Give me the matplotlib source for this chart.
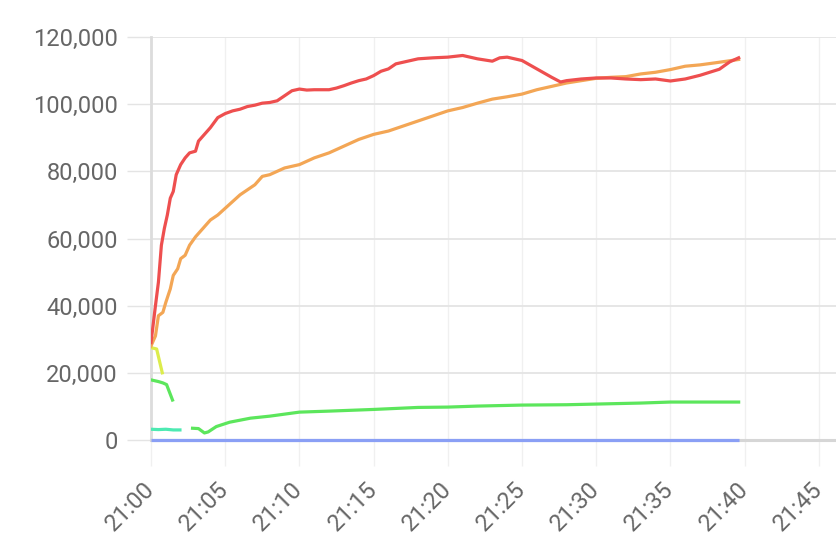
import numpy as np
import matplotlib.pyplot as plt

# minutes after 21:00
red_t = [0, 0.3, 0.5, 0.7, 0.9, 1.1, 1.3, 1.5, 1.7, 2.0, 2.3, 2.6, 3.0, 3.2, 3.6, 4.0, 4.5, 5.0,
         5.5, 6.0, 6.5, 7.0, 7.5, 8.0, 8.5, 9.0, 9.5, 10, 10.5, 11, 12, 12.5, 13, 13.5, 14, 14.5,
         15, 15.5, 16, 16.5, 17, 18, 19, 20, 21, 22, 23, 23.5, 24, 25, 26, 27, 27.6, 28, 29, 30,
         31, 32, 33, 34, 35, 36, 37, 38.3, 39, 39.6]
red_v = [29000, 40000, 47000, 58000, 63000, 67000, 72000, 74000, 79000, 82000, 84000, 85500,
         86000, 89000, 91000, 93000, 96000, 97200, 98000, 98500, 99300, 99700, 100300, 100500,
         101000, 102500, 104000, 104500, 104200, 104300, 104300, 104800, 105500, 106300, 107000,
         107500, 108500, 109800, 110500, 112000, 112500, 113500, 113800, 114000, 114500, 113500,
         112800, 113800, 114000, 113000, 110500, 108000, 106600, 107000, 107500, 107800, 107800,
         107500, 107300, 107500, 106900, 107500, 108600, 110400, 112600, 113800]

orange_t = [0, 0.3, 0.5, 0.8, 1.0, 1.3, 1.5, 1.8, 2.0, 2.3, 2.6, 3.0, 3.5, 4.0, 4.5, 5.0, 5.5,
            6.0, 6.5, 7.0, 7.5, 8.0, 8.5, 9.0, 10, 11, 12, 13, 14, 15, 16, 17, 18, 19, 20, 21,
            22, 23, 24, 25, 26, 27, 28, 29, 30, 31, 32, 33, 34, 35, 36, 37, 38, 39.6]
orange_v = [28000, 31000, 37000, 38000, 41000, 45000, 49000, 51000, 54000, 55000, 58000, 60500,
            63000, 65500, 67000, 69000, 71000, 73000, 74500, 76000, 78500, 79000, 80000, 81000,
            82000, 84000, 85500, 87500, 89500, 91000, 92000, 93500, 95000, 96500, 98000, 99000,
            100300, 101500, 102200, 103000, 104300, 105300, 106300, 107000, 107700, 108000,
            108200, 109000, 109500, 110300, 111300, 111700, 112300, 113300]

yellow_t = [0, 0.38, 0.76]
yellow_v = [27500, 27100, 20000]

green_t = [0, 0.5, 0.8, 1.05, 1.45, 2.1, 2.8, 3.2, 3.6, 3.85, 4.4, 5.3, 6.7, 8, 10, 12, 15, 18,
           20, 22, 25, 28, 30, 33, 35, 37, 39.6]
green_v = [17900, 17400, 17000, 16500, 11900, np.nan, 3500, 3400, 2100, 2400, 4000, 5300, 6500,
           7100, 8300, 8600, 9100, 9700, 9800, 10100, 10400, 10500, 10700, 11000, 11300, 11300,
           11300]

teal_t = [0, 0.5, 1.0, 1.5, 1.95]
teal_v = [3200, 3100, 3200, 3000, 3000]

blue_t = [0, 39.6]
blue_v = [0, 0]

x_ticks = [0, 5, 10, 15, 20, 25, 30, 35, 40, 45]
x_labels = ["21:00", "21:05", "21:10", "21:15", "21:20", "21:25", "21:30", "21:35", "21:40", "21:45"]
y_ticks = [0, 20000, 40000, 60000, 80000, 100000, 120000]
y_labels = ["0", "20,000", "40,000", "60,000", "80,000", "100,000", "120,000"]

plt.rcParams['font.family'] = ['Roboto', 'DejaVu Sans']

fig = plt.figure(figsize=(8.36, 5.47), dpi=100)
ax = fig.add_axes([151 / 836, 107 / 547, 685 / 836, 403 / 547])

lw = 2.3
ax.plot(blue_t, blue_v, color="#8a9ff5", lw=lw, zorder=5, clip_on=False, solid_capstyle="butt")
ax.plot(teal_t, teal_v, color="#4deab2", lw=lw, zorder=5)
ax.plot(green_t, green_v, color="#5ce65c", lw=lw, zorder=5)
ax.plot(yellow_t, yellow_v, color="#dcec4c", lw=lw, zorder=5)
ax.plot(orange_t, orange_v, color="#f3a655", lw=lw, zorder=6)
ax.plot(red_t, red_v, color="#ee4f4f", lw=lw, zorder=7)

ax.set_xlim(0, 46.16)
ax.set_ylim(0, 120000)
ax.set_xticks(x_ticks)
ax.set_xticklabels(x_labels, rotation=45, ha="right", va="center", rotation_mode="anchor")
ax.set_yticks(y_ticks)
ax.set_yticklabels(y_labels)

ax.grid(axis="y", color="#e4e4e4", lw=1.3)
ax.grid(axis="x", color="#f0f0f0", lw=1)
ax.set_axisbelow(True)

for s in ["top", "right"]:
    ax.spines[s].set_visible(False)
ax.spines["left"].set_color("#dcdcdc")
ax.spines["left"].set_linewidth(2)
ax.spines["bottom"].set_color("#d6d6d6")
ax.spines["bottom"].set_linewidth(2.2)

ax.tick_params(axis="y", length=17, width=1, color="#e4e4e4", pad=7, labelsize=17, labelcolor="#666666")
ax.tick_params(axis="x", length=19, width=1, color="#f0f0f0", pad=14, labelsize=17, labelcolor="#666666")

fig.savefig("out.png", dpi=100)
